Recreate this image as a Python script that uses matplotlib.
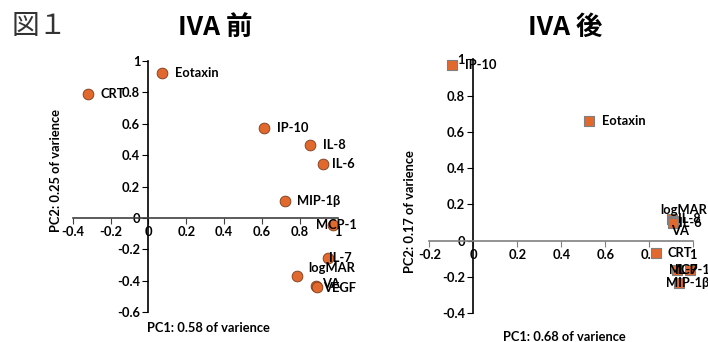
import matplotlib
matplotlib.use("Agg")
import matplotlib.pyplot as plt

plt.rcParams['font.family'] = ['Lato', 'Noto Sans CJK JP', 'DejaVu Sans']

# IVA 前 (before)
pre_names = ["Eotaxin", "CRT", "IP-10", "IL-8", "IL-6", "MIP-1β", "MCP-1", "IL-7", "logMAR", "VA", "VEGF"]
pre_pc1 = [0.074, -0.318, 0.608, 0.854, 0.922, 0.722, 0.973, 0.949, 0.787, 0.884, 0.888]
pre_pc2 = [0.925, 0.790, 0.575, 0.463, 0.342, 0.108, -0.045, -0.257, -0.370, -0.432, -0.440]

# IVA 後 (after)
post_names = ["IP-10", "Eotaxin", "logMAR", "IL-8", "IL-6", "VA", "CRT", "MCP-1", "IL-7", "MIP-1β"]
post_pc1 = [-0.095, 0.524, 0.902, 0.909, 0.912, 0.906, 0.830, 0.924, 0.985, 0.936]
post_pc2 = [0.968, 0.661, 0.118, 0.108, 0.102, 0.100, -0.069, -0.161, -0.161, -0.231]

# label offsets (pixels) relative to each point
pre_off = {"Eotaxin": (13, 0), "CRT": (12, 0), "IP-10": (13, 0), "IL-8": (13, 0),
           "IL-6": (9, 0), "MIP-1β": (12, 0), "MCP-1": (-17, 0), "IL-7": (1, 0),
           "logMAR": (11, 8), "VA": (6, 2), "VEGF": (7, -1)}
post_off = {"IP-10": (13, 0), "Eotaxin": (13, 0), "logMAR": (-11, 9), "IL-8": (5, 2),
            "IL-6": (5, -1), "VA": (-2, -8), "CRT": (12, 0), "MCP-1": (-8, 0),
            "IL-7": (-15, 0), "MIP-1β": (-13, 0)}

fill = '#E2692E'
fs = 9.3

fig = plt.figure(figsize=(7.08, 3.42), dpi=100)
ax1 = fig.add_axes([0.1027, 0.0877, 0.3743, 0.7339])
ax2 = fig.add_axes([0.6064, 0.0839, 0.3728, 0.743])


def style(ax, xlim, ylim, xticks, yticks, xcolor):
    ax.set_xlim(*xlim)
    ax.set_ylim(*ylim)
    for s in ['top', 'right']:
        ax.spines[s].set_visible(False)
    ax.spines['left'].set_position(('data', 0))
    ax.spines['bottom'].set_position(('data', 0))
    ax.spines['left'].set_color('black')
    ax.spines['bottom'].set_color(xcolor)
    ax.spines['left'].set_linewidth(1.2)
    ax.spines['bottom'].set_linewidth(1.2)
    ax.set_xticks(xticks)
    ax.set_yticks(yticks)
    ax.set_xticklabels([f"{t:g}" for t in xticks], fontsize=fs, fontweight='bold')
    ax.set_yticklabels([f"{t:g}" for t in yticks], fontsize=fs, fontweight='bold')
    ax.tick_params(axis='x', direction='out', length=4, color=xcolor, pad=2)
    ax.tick_params(axis='y', direction='out', length=4, color='black', pad=2)
    ax.patch.set_alpha(0)


style(ax1, (-0.4, 1.0), (-0.6, 1.0), [-0.4, -0.2, 0, 0.2, 0.4, 0.6, 0.8, 1],
      [-0.6, -0.4, -0.2, 0, 0.2, 0.4, 0.6, 0.8, 1], '#404040')
style(ax2, (-0.2, 1.0), (-0.4, 1.0), [-0.2, 0, 0.2, 0.4, 0.6, 0.8, 1],
      [-0.4, -0.2, 0, 0.2, 0.4, 0.6, 0.8, 1], '#808080')

ax1.scatter(pre_pc1, pre_pc2, s=60, marker='o', color=fill, edgecolor='#7a3a18',
            linewidth=0.6, zorder=3, clip_on=False)
for n, x, y in zip(pre_names, pre_pc1, pre_pc2):
    dx, dy = pre_off[n]
    ax1.annotate(n, (x, y), xytext=(dx, dy), textcoords='offset pixels',
                 fontsize=fs, fontweight='bold', ha='left', va='center', zorder=4)

ax2.scatter(post_pc1, post_pc2, s=55, marker='s', color=fill, edgecolor='#7f7f7f',
            linewidth=0.8, zorder=3, clip_on=False)
for n, x, y in zip(post_names, post_pc1, post_pc2):
    dx, dy = post_off[n]
    ax2.annotate(n, (x, y), xytext=(dx, dy), textcoords='offset pixels',
                 fontsize=fs, fontweight='bold', ha='left', va='center', zorder=4)

# axis titles
fig.text(0.207, 0.04, "PC1: 0.58 of varience", fontsize=fs, fontweight='bold',
         ha='left', va='center')
fig.text(0.079, 0.5, "PC2: 0.25 of varience", fontsize=fs, fontweight='bold',
         ha='center', va='center', rotation=90)
fig.text(0.711, 0.016, "PC1: 0.68 of varience", fontsize=fs, fontweight='bold',
         ha='left', va='center')
fig.text(0.579, 0.38, "PC2: 0.17 of varience", fontsize=fs, fontweight='bold',
         ha='center', va='center', rotation=90)

# titles
fig.text(0.016, 0.925, "図１", fontsize=20, color='#333333', ha='left', va='center',
         family=['Noto Sans CJK JP', 'DejaVu Sans'])
fig.text(0.304, 0.92, "IVA 前", fontsize=19, fontweight='bold', ha='center', va='center',
         family=['Noto Sans CJK JP', 'DejaVu Sans'])
fig.text(0.798, 0.92, "IVA 後", fontsize=19, fontweight='bold', ha='center', va='center',
         family=['Noto Sans CJK JP', 'DejaVu Sans'])

fig.savefig("out.png", dpi=100)
